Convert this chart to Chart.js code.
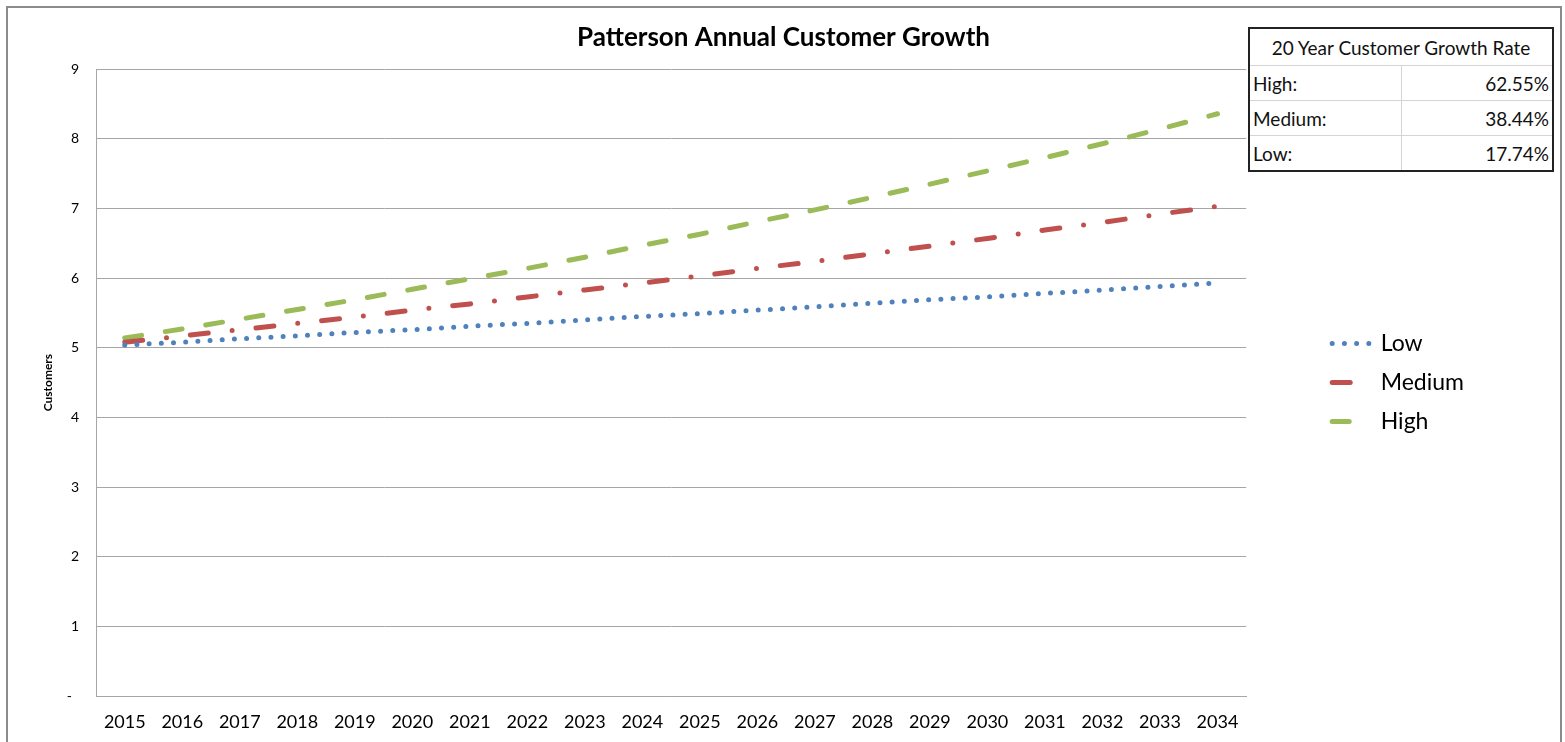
<!DOCTYPE html>
<html>
<head>
<meta charset="utf-8">
<title>Patterson Annual Customer Growth</title>
<script src="https://cdn.jsdelivr.net/npm/chart.js@4.4.1/dist/chart.umd.min.js"></script>
<style>
    body { margin: 0; background: #ffffff; }
    #frame {
        position: absolute; left: 6px; top: 6px;
        width: 1552px; height: 740px;
        border: 2px solid #8c8c8c; border-bottom: none;
    }
    #wrap { position: absolute; left: 8px; top: 8px; width: 1551px; height: 734px; }
    #rates {
        position: absolute; left: 1248px; top: 27px; width: 306px;
        border-collapse: collapse; border: 2px solid #222222;
        font-family: Lato, "Open Sans", sans-serif; font-size: 19px; color: #111111;
        background: #ffffff;
    }
    #rates td { border: 1px solid #d4d4d4; padding: 0 3px; height: 34px; }
    #rates td.head { text-align: center; height: 36px; }
    #rates td.val { text-align: right; width: 144px; }
</style>
</head>
<body>

<div id="frame"></div>
<div id="wrap"><canvas id="growthChart"></canvas></div>
<table id="rates"></table>

<script>
// ======================================================
// Chart Data
// ======================================================

const years = ["2015", "2016", "2017", "2018", "2019", "2020", "2021", "2022", "2023", "2024",
               "2025", "2026", "2027", "2028", "2029", "2030", "2031", "2032", "2033", "2034"];

const lowValues = [5.04, 5.08, 5.13, 5.17, 5.22, 5.26, 5.31, 5.35, 5.40, 5.45,
                   5.49, 5.54, 5.59, 5.64, 5.69, 5.73, 5.78, 5.83, 5.88, 5.93];

const mediumValues = [5.08, 5.17, 5.26, 5.35, 5.44, 5.54, 5.63, 5.73, 5.83, 5.93,
                      6.03, 6.14, 6.24, 6.35, 6.46, 6.57, 6.69, 6.80, 6.92, 7.03];

const highValues = [5.14, 5.27, 5.41, 5.55, 5.69, 5.84, 5.99, 6.14, 6.30, 6.47,
                    6.63, 6.81, 6.98, 7.16, 7.35, 7.54, 7.73, 7.93, 8.14, 8.36];

const yTickLabels = ["-  ", "1", "2", "3", "4", "5", "6", "7", "8", "9"];

const rateTitle = "20 Year Customer Growth Rate";
const rateLabels = ["High:", "Medium:", "Low:"];
const rateValues = ["62.55%", "38.44%", "17.74%"];


// ======================================================
// Growth Rate Table
// ======================================================

const table = document.getElementById("rates");
table.innerHTML = '<tr><td class="head" colspan="2">' + rateTitle + '</td></tr>' +
    rateLabels.map((label, i) =>
        '<tr><td>' + label + '</td><td class="val">' + rateValues[i] + '</td></tr>'
    ).join("");


// ======================================================
// Create Chart
// ======================================================

Chart.defaults.font.family = "Lato, 'Open Sans', sans-serif";
Chart.defaults.color = "#000000";

const gridGray = "#a6a6a6";

// legend samples copy the dash pattern of their line
function legendLabels(chart) {
    return Chart.defaults.plugins.legend.labels.generateLabels(chart).map((item) => {
        const ds = chart.data.datasets[item.datasetIndex];
        item.lineDash = ds.borderDash;
        item.lineWidth = ds.borderWidth;
        item.lineCap = ds.borderCapStyle;
        item.strokeStyle = ds.borderColor;
        item.pointStyle = "line";
        return item;
    });
}

const ctx = document.getElementById("growthChart").getContext("2d");

new Chart(ctx, {

    type: "line",

    data: {
        labels: years,
        datasets: [
            {
                label: "Low",
                data: lowValues,
                borderColor: "#4f81bd",
                borderWidth: 5,
                borderDash: [0, 12.2],
                borderCapStyle: "round",
                pointRadius: 0,
                tension: 0
            },
            {
                label: "Medium",
                data: mediumValues,
                borderColor: "#c0504d",
                borderWidth: 5,
                borderDash: [18, 24, 0, 24],
                borderCapStyle: "round",
                pointRadius: 0,
                tension: 0
            },
            {
                label: "High",
                data: highValues,
                borderColor: "#9bbb59",
                borderWidth: 5,
                borderDash: [17, 24],
                borderCapStyle: "round",
                pointRadius: 0,
                tension: 0
            }
        ]
    },

    options: {
        responsive: true,
        maintainAspectRatio: false,
        animation: false,
        layout: {
            padding: 0
        },
        plugins: {
            title: {
                display: true,
                text: "Patterson Annual Customer Growth",
                font: { size: 26, weight: "bold" },
                color: "#000000",
                padding: { top: 14, bottom: 16 }
            },
            legend: {
                position: "right",
                fullSize: false,
                labels: {
                    usePointStyle: true,
                    pointStyle: "line",
                    pointStyleWidth: 37,
                    boxHeight: 10,
                    padding: 16,
                    font: { size: 23 },
                    color: "#000000",
                    generateLabels: legendLabels
                }
            },
            tooltip: { enabled: false }
        },
        scales: {
            x: {
                offset: true,
                grid: { display: false, drawTicks: false },
                border: { display: true, color: gridGray },
                ticks: { padding: 15, autoSkip: false, maxRotation: 0, font: { size: 18 } },
                afterFit: (scale) => { scale.height = 46; }
            },
            y: {
                min: 0,
                max: 9,
                grid: { color: gridGray, drawTicks: false },
                border: { display: true, color: gridGray },
                ticks: {
                    stepSize: 1,
                    padding: 17,
                    font: { size: 14 },
                    callback: (value) => yTickLabels[value]
                },
                title: {
                    display: true,
                    text: "Customers",
                    font: { size: 12, weight: "bold" },
                    padding: { top: 33, bottom: 0 }
                },
                afterFit: (scale) => { scale.width = 88; }
            },
            gap: {
                type: "linear",
                position: "right",
                grid: { display: false, drawTicks: false },
                border: { display: false },
                ticks: { display: false },
                afterFit: (scale) => { scale.width = 70; }
            },
            edge: {
                type: "linear",
                position: "right",
                weight: 2000,
                grid: { display: false, drawTicks: false },
                border: { display: false },
                ticks: { display: false },
                afterFit: (scale) => { scale.width = 85; }
            }
        }
    }

});
</script>
</body>
</html>
